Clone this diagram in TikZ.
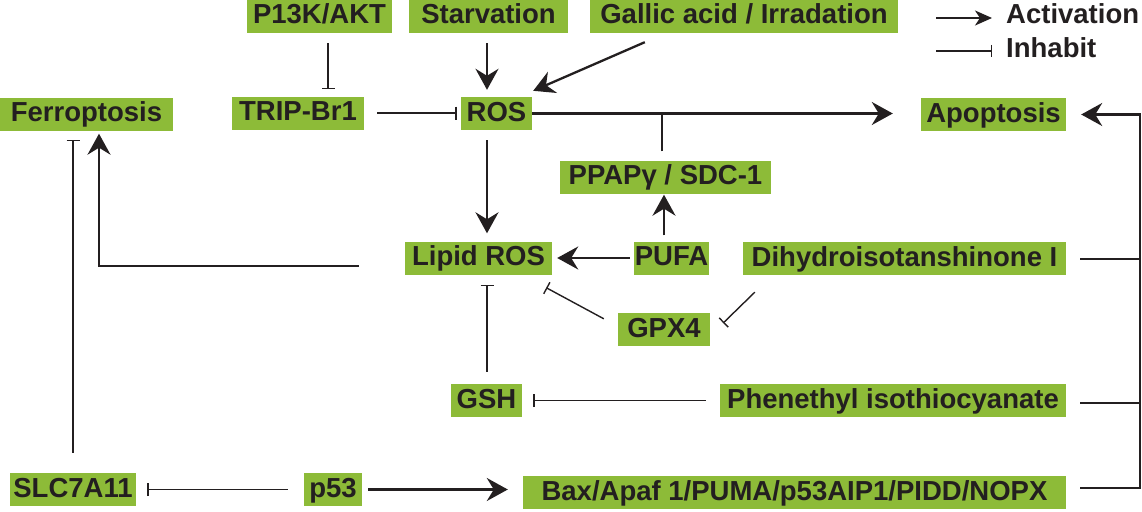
\documentclass[tikz,border=0pt]{standalone}
\usepackage{fontspec}
\setmainfont{Liberation Sans}
\usetikzlibrary{arrows.meta,calc}
\definecolor{boxgreen}{RGB}{141,187,56}
\definecolor{ink}{RGB}{35,31,32}
\begin{document}
\begin{tikzpicture}[x=1pt,y=-1pt,
  box/.style={fill=boxgreen, text=ink, font=\fontsize{27.5}{30}\selectfont\bfseries,
    text height=20pt, text depth=5pt, inner ysep=4pt, inner xsep=0pt, minimum height=33pt},
  legtext/.style={text=ink, font=\fontsize{27.5}{30}\selectfont\bfseries, inner sep=0pt},
  act/.style={draw=ink, line width=2.3pt, line join=miter, -{Stealth[length=21pt,width=23pt,inset=7pt]}},
  legact/.style={draw=ink, line width=2pt, -{Stealth[length=17pt,width=15pt,inset=5pt]}},
  inh/.style={draw=ink, line width=1.4pt, -{Bar[width=13pt,line width=1.4pt]}},
  plain/.style={draw=ink, line width=2.2pt},
]
\useasboundingbox (0,0) rectangle (1142,511);

% nodes
\node[box, minimum width=145pt] (pk) at (319.5,16.5) {P13K/AKT};
\node[box, minimum width=159pt] (starv) at (488.5,16.5) {Starvation};
\node[box, minimum width=308pt] (gal) at (744,16.5) {Gallic acid / Irradation};
\node[box, minimum width=173pt] (ferro) at (86.5,114) {Ferroptosis};
\node[box, minimum width=132pt] (trip) at (298,113) {TRIP-Br1};
\node[box, minimum width=71pt] (ros) at (496.5,113.5) {ROS};
\node[box, minimum width=145pt] (apo) at (993.5,114.5) {Apoptosis};
\node[box, minimum width=211pt] (ppap) at (665.5,177) {PPAPγ / SDC-1};
\node[box, minimum width=147pt] (lipid) at (478.5,258) {Lipid ROS};
\node[box, minimum width=75pt] (pufa) at (671.5,258) {PUFA};
\node[box, minimum width=323pt] (dihy) at (904.5,258.5) {Dihydroisotanshinone I};
\node[box, minimum width=92pt] (gpx) at (664,329.5) {GPX4};
\node[box, minimum width=71pt] (gsh) at (486.5,400.5) {GSH};
\node[box, minimum width=346pt] (phen) at (893,400.5) {Phenethyl isothiocyanate};
\node[box, minimum width=126pt] (slc) at (73,489.5) {SLC7A11};
\node[box, minimum width=58pt] (p53) at (333,489.5) {p53};
\node[box, minimum width=543pt] (bax) at (794.5,492.5) {Bax/Apaf 1/PUMA/p53AIP1/PIDD/NOPX};

% legend
\node[legtext, anchor=base west] (lact) at (1006,24) {Activation};
\node[legtext, anchor=base west] (linh) at (1006,57) {Inhabit};
\coordinate (la) at (936,18);
\coordinate (li) at (936,51);
\draw[legact, shorten >=14pt] (la) -- (la -| lact.west);
\draw[inh, shorten >=14pt, -{Bar[width=12pt,line width=1.4pt]}] (li) -- (li -| linh.west);

% helper x positions
\coordinate (xk) at (328,0);
\coordinate (xs) at (487,0);
\coordinate (xp) at (662,0);
\coordinate (xpu) at (664,0);
\coordinate (xr) at (1140,0);

% connectors
\draw[inh, shorten <=10pt, shorten >=7pt] (pk.south -| xk) -- (trip.north -| xk);
\draw[inh, shorten <=13pt, shorten >=4pt] (trip.east) -- (trip.east -| ros.west);
\draw[act, shorten <=10pt, shorten >=7pt] (starv.south -| xs) -- (ros.north -| xs);
\draw[act] ($(gal.south west)+(55,9)$) -- ($(ros.north east)+(1,-6)$);
\draw[act, shorten >=28pt] (ros.east) -- (ros.east -| apo.west);
\draw[draw=ink, line width=2pt, shorten <=9pt] (ppap.north -| xp) -- (ros.east -| xp);
\draw[act, shorten <=10pt, shorten >=8pt] (ros.south -| xs) -- (lipid.north -| xs);
\draw[act, shorten <=4pt, shorten >=5pt] (pufa.west) -- (lipid.east);
\draw[act, shorten <=6pt, shorten >=1pt] (pufa.north -| xpu) -- (ppap.south -| xpu);
\draw[inh] ($(gpx.north west)+(-14,6)$) -- ($(lipid.south east)+(-6,13)$);
\draw[inh] ($(dihy.south west)+(12,17)$) -- ($(gpx.east)+(13,-6.5)$);
\draw[inh, shorten <=12pt, shorten >=10pt] (gsh.north -| xs) -- (lipid.south -| xs);
\draw[inh, shorten <=14pt, shorten >=11pt] (phen.west) -- (gsh.east);
\draw[act] ($(lipid.west)+(-46,8)$) -| ($(ferro.south)+(12.5,3)$);
\draw[inh, shorten <=20pt, shorten >=9pt] (slc.north) -- (slc.north |- ferro.south);
\draw[inh, shorten <=16pt, shorten >=11pt] (p53.west) -- (slc.east);
\draw[act, shorten <=6pt, shorten >=15pt] (p53.east) -- (p53.east -| bax.west);

% right bracket to Apoptosis
\draw[plain] ($(dihy.east)+(14,0.5)$) coordinate (de) -- (de -| xr);
\draw[plain] ($(phen.east)+(14,2.5)$) coordinate (pe) -- (pe -| xr);
\draw[act, shorten >=15pt] ($(bax.east)+(14,-4.5)$) coordinate (be) -- (be -| xr) -- (xr |- apo.east) -- (apo.east);
\end{tikzpicture}
\end{document}
